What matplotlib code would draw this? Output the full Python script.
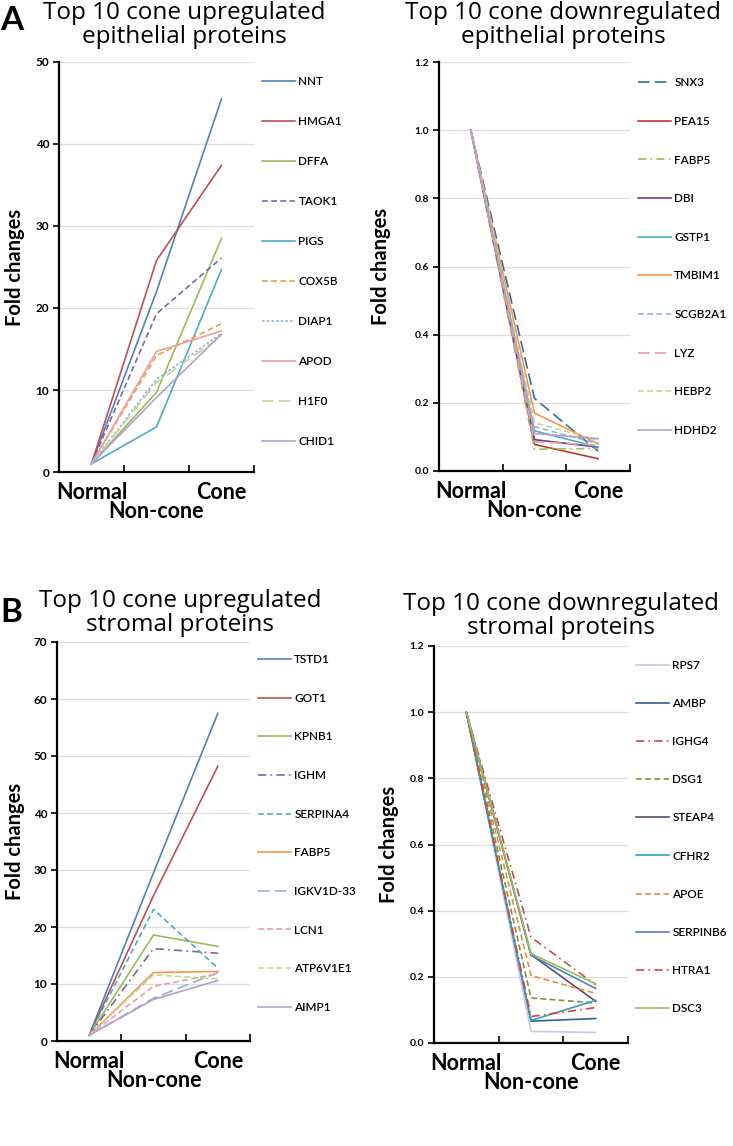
import numpy as np
import matplotlib.pyplot as plt

plt.rcParams['font.family'] = ['Lato', 'DejaVu Sans']

categories = ["Normal", "Non-cone", "Cone"]

# panel A, epithelial
epi_up_names = ["NNT", "HMGA1", "DFFA", "TAOK1", "PIGS", "COX5B", "DIAP1", "APOD", "H1F0", "CHID1"]
epi_up_vals = [
    [1, 22.0, 45.5],
    [1, 25.8, 37.4],
    [1, 9.7, 28.5],
    [1, 19.3, 26.1],
    [1, 5.5, 24.7],
    [1, 14.2, 18.1],
    [1, 11.3, 16.9],
    [1, 14.7, 17.2],
    [1, 10.9, 16.6],
    [1, 9.1, 16.8],
]

epi_down_names = ["SNX3", "PEA15", "FABP5", "DBI", "GSTP1", "TMBIM1", "SCGB2A1", "LYZ", "HEBP2", "HDHD2"]
epi_down_vals = [
    [1, 0.213, 0.058],
    [1, 0.078, 0.036],
    [1, 0.064, 0.066],
    [1, 0.092, 0.070],
    [1, 0.118, 0.070],
    [1, 0.170, 0.080],
    [1, 0.130, 0.080],
    [1, 0.086, 0.076],
    [1, 0.142, 0.090],
    [1, 0.110, 0.095],
]

# panel B, stromal
str_up_names = ["TSTD1", "GOT1", "KPNB1", "IGHM", "SERPINA4", "FABP5", "IGKV1D-33", "LCN1", "ATP6V1E1", "AIMP1"]
str_up_vals = [
    [1, 29.5, 57.5],
    [1, 25.5, 48.2],
    [1, 18.6, 16.6],
    [1, 16.2, 15.4],
    [1, 23.1, 12.8],
    [1, 12.0, 12.2],
    [1, 7.5, 12.0],
    [1, 9.6, 11.8],
    [1, 11.6, 10.9],
    [1, 7.3, 10.6],
]

str_down_names = ["RPS7", "AMBP", "IGHG4", "DSG1", "STEAP4", "CFHR2", "APOE", "SERPINB6", "HTRA1", "DSC3"]
str_down_vals = [
    [1, 0.035, 0.032],
    [1, 0.066, 0.074],
    [1, 0.320, 0.176],
    [1, 0.136, 0.121],
    [1, 0.267, 0.126],
    [1, 0.068, 0.129],
    [1, 0.204, 0.150],
    [1, 0.265, 0.165],
    [1, 0.080, 0.107],
    [1, 0.270, 0.179],
]

SOLID = '-'
DASH = (0, (3.5, 2))
LONGDASH = (0, (7, 3))
DOT = (0, (1.6, 1.2))
DASHDOT = (0, (5, 2.5, 1, 2.5))

epi_up_colors = ['#4F81BD', '#C0504D', '#9BBB59', '#8064A2', '#4BACC6',
                 '#F79646', '#95B3D7', '#E6A09E', '#C3D69B', '#B3A2C7']
epi_up_styles = [SOLID, SOLID, SOLID, DASH, SOLID, DASH, DOT, SOLID, LONGDASH, SOLID]

epi_down_colors = ['#2E6DAE', '#C0392B', '#9BBB59', '#6A3D9A', '#4BACC6',
                   '#F79646', '#95B3D7', '#E6A09E', '#C3D69B', '#B3A2C7']
epi_down_styles = [LONGDASH, SOLID, DASHDOT, SOLID, SOLID, SOLID, DASH, LONGDASH, DASH, SOLID]

str_up_colors = ['#4F81BD', '#C0504D', '#9BBB59', '#8064A2', '#4BACC6',
                 '#F79646', '#95B3D7', '#E6A09E', '#C3D69B', '#B3A2C7']
str_up_styles = [SOLID, SOLID, SOLID, DASHDOT, DASH, SOLID, LONGDASH, DASH, DASH, SOLID]

str_down_colors = ['#CCC6DE', '#2F5F98', '#C0504D', '#77933C', '#5F497A',
                   '#31A0BE', '#E98A3A', '#4F81BD', '#D9443F', '#9BBB59']
str_down_styles = [SOLID, SOLID, DASHDOT, DASH, SOLID, SOLID, DASH, SOLID, DASHDOT, SOLID]


def draw_panel(rect, names, vals, colors, styles, ymax, ystep, fmt, tick_fs, ylab_x,
               leg_y, leg_sp):
    ax = fig.add_axes(rect)
    x = np.arange(len(categories)) + 0.5
    for n, v, c, s in zip(names, vals, colors, styles):
        ax.plot(x, v, color=c, ls=s, lw=1.2, label=n)
    ax.set_xlim(0, len(categories))
    ax.set_ylim(0, ymax)
    yt = np.arange(0, ymax + ystep / 2, ystep)
    ax.set_yticks(yt)
    ax.set_yticklabels([fmt.format(t) for t in yt], fontsize=tick_fs, fontweight='bold')
    ax.set_xticks(np.arange(len(categories) + 1))
    ax.set_xticklabels([])
    ax.tick_params(axis='x', direction='in', length=5, width=1.2)
    ax.tick_params(axis='y', direction='out', length=4, width=1.2, pad=3)
    ax.yaxis.grid(True, color='#DDDDDD', lw=0.9)
    ax.set_axisbelow(True)
    for sp in ['top', 'right']:
        ax.spines[sp].set_visible(False)
    for sp in ['left', 'bottom']:
        ax.spines[sp].set_linewidth(1.6)
    for i, cat in enumerate(categories):
        off = -28.5 if i == 1 else -14.5
        ax.annotate(cat, xy=(i + 0.5, 0), xycoords=ax.get_xaxis_transform(),
                    xytext=(0, off), textcoords='offset points',
                    ha='center', va='center', fontsize=15.5, fontweight='bold')
    ax.set_ylabel('Fold changes', fontsize=14.5, fontweight='bold', va='center')
    ax.yaxis.set_label_coords(ylab_x, 0.5)
    ax.legend(loc='center left', bbox_to_anchor=(1.04, leg_y), frameon=False,
              prop={'size': 8.5, 'weight': 'semibold'},
              handlelength=2.8, handletextpad=0.3, labelspacing=leg_sp,
              borderaxespad=0, borderpad=0)
    return ax


W, H = 733, 1146
fig = plt.figure(figsize=(W / 100, H / 100), dpi=100)


def rect(x0, x1, ytop, ybot):
    return [x0 / W, 1 - ybot / H, (x1 - x0) / W, (ybot - ytop) / H]


draw_panel(rect(59, 254, 62, 472), epi_up_names, epi_up_vals, epi_up_colors, epi_up_styles,
           50, 10, '{:.0f}', 8.5, -44 / 195, 0.513, 2.46)
draw_panel(rect(439, 630, 62, 471), epi_down_names, epi_down_vals, epi_down_colors, epi_down_styles,
           1.2, 0.2, '{:.1f}', 7.5, -58 / 191, 0.524, 2.34)
draw_panel(rect(57, 250, 642, 1041), str_up_names, str_up_vals, str_up_colors, str_up_styles,
           70, 10, '{:.0f}', 8.5, -42 / 193, 0.52, 2.34)
draw_panel(rect(434, 628, 646, 1043), str_down_names, str_down_vals, str_down_colors, str_down_styles,
           1.2, 0.2, '{:.1f}', 7.5, -45 / 194, 0.519, 2.3)

title_kw = dict(ha='center', va='center', fontsize=17.5, fontweight='normal',
                family=['Open Sans', 'DejaVu Sans'], linespacing=1.0)
fig.text(184 / W, 1 - 25 / H, 'Top 10 cone upregulated\nepithelial proteins', **title_kw)
fig.text(563 / W, 1 - 25 / H, 'Top 10 cone downregulated\nepithelial proteins', **title_kw)
fig.text(180 / W, 1 - 613 / H, 'Top 10 cone upregulated\nstromal proteins', **title_kw)
fig.text(561 / W, 1 - 616 / H, 'Top 10 cone downregulated\nstromal proteins', **title_kw)

fig.text(12 / W, 1 - 20 / H, 'A', ha='center', va='center', fontsize=24, fontweight='bold')
fig.text(11 / W, 1 - 612 / H, 'B', ha='center', va='center', fontsize=24, fontweight='bold')

fig.savefig('out.png', dpi=100)
